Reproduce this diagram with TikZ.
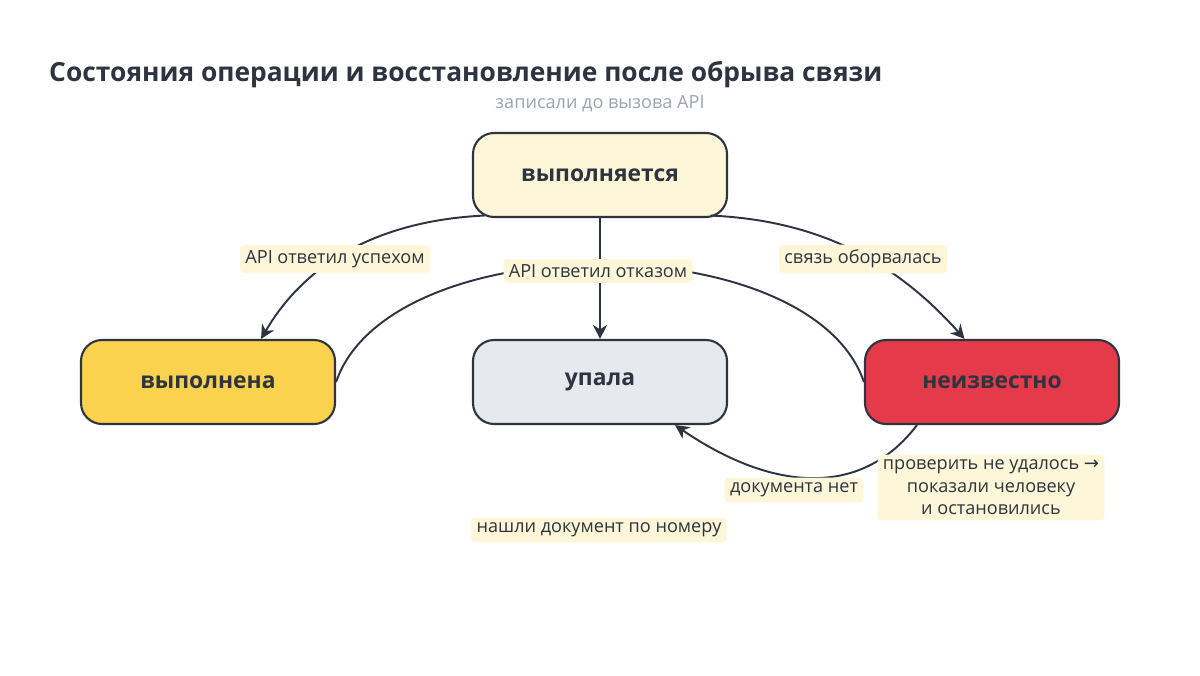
\documentclass[tikz,border=0pt]{standalone}
\usepackage{fontspec}
\setmainfont{Open Sans}
\newfontfamily\symfont{DejaVu Sans}
\usetikzlibrary{arrows.meta,positioning}
\definecolor{ink}{HTML}{2D3440}
\definecolor{paleyel}{HTML}{FEF6D8}
\definecolor{gold}{HTML}{FBD24E}
\definecolor{greyfill}{HTML}{E6E9ED}
\definecolor{redfill}{HTML}{E43A4A}
\definecolor{muted}{HTML}{9AA3AE}

\tikzset{
  state/.style={draw=ink, line width=1.2pt, rounded corners=12pt, minimum width=5.08cm,
    minimum height=1.68cm, font=\fontsize{13}{15}\selectfont\bfseries, text=ink},
  lbl/.style={fill=paleyel, rounded corners=2pt, inner sep=3pt, text=ink,
    font=\fontsize{10.3}{12.8}\selectfont},
  edge/.style={draw=ink, line width=1.1pt},
  arr/.style={edge, -{Stealth[length=8pt,width=8pt]}}
}

\begin{document}
\begin{tikzpicture}
    \useasboundingbox (0,0) rectangle (24,13.5);

    % title
    \node[anchor=west, text=ink, font=\fontsize{15}{18}\selectfont\bfseries] (title) at (0.86,12.0)
      {Состояния операции и восстановление после обрыва связи};
    \node[text=muted, font=\fontsize{10.3}{12}\selectfont] (entry) at (12,11.42) {записали до вызова API};

    % states
    \node[state, fill=paleyel] (run) at (12,10.0) {выполняется};
    \node[state, fill=gold] (done) at (4.16,5.86) {выполнена};
    \node[state, fill=greyfill] (fail) at (12,5.86) {упала};
    \node[state, fill=redfill] (unk) at (19.84,5.86) {неизвестно};

    % transitions
    \draw[arr] ([xshift=0.25cm,yshift=0.05cm]run.south west) .. controls (7.8,9.1) and (6.2,8.4) .. ([xshift=-1.5cm]done.north east);
    \draw[arr] (run.south) -- (fail.north);
    \draw[arr] ([xshift=-0.35cm,yshift=0.05cm]run.south east) .. controls (16.2,9.1) and (17.8,8.4) .. ([xshift=-0.55cm]unk.north);
    \draw[edge] (unk.west) .. controls (16.2,9.0) and (7.8,9.0) .. (done.east);
    \draw[arr] ([xshift=-1.5cm]unk.south) .. controls (17.2,3.5) and (15.4,3.7) .. ([xshift=1.5cm]fail.south);

    % labels
    \node[lbl] (l1) at (6.7,8.32) {API ответил успехом};
    \node[lbl] (l2) at (11.96,8.08) {API ответил отказом};
    \node[lbl] (l3) at (17.26,8.32) {связь оборвалась};
    \node[lbl] (l4) at (15.88,3.7) {документа нет};
    \node[lbl, align=center] (l5) at (19.82,3.75) {проверить не удалось {\symfont →}\\показали человеку\\и остановились};
    \node[lbl] (l6) at (11.98,2.9) {нашли документ по номеру};
\end{tikzpicture}
\end{document}
